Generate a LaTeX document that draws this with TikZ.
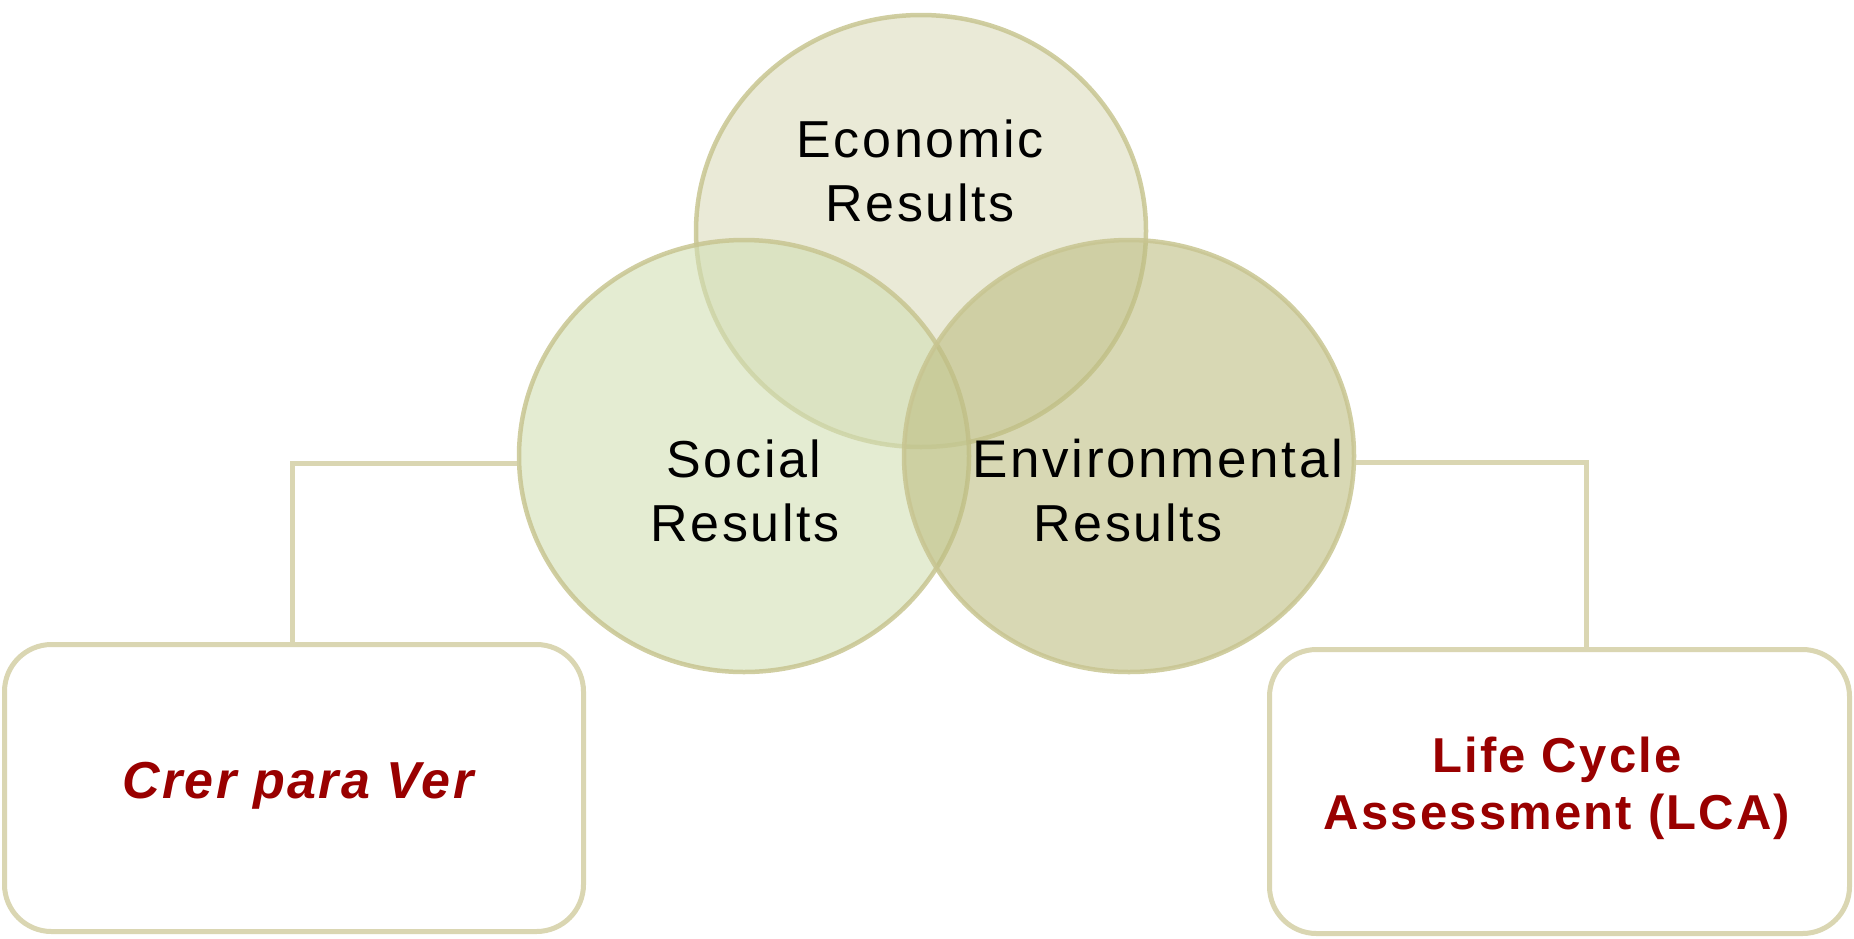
\documentclass[tikz,border=0pt]{standalone}
\usepackage{fontspec}
\usetikzlibrary{shapes.geometric}
\setmainfont{Liberation Sans}
\newfontfamily\circfont[LetterSpace=5]{Liberation Sans}
\newfontfamily\redfont[LetterSpace=4.5]{Liberation Sans}
\definecolor{econfill}{RGB}{220,220,188}
\definecolor{socfill}{RGB}{210,223,180}
\definecolor{envfill}{RGB}{190,190,130}
\definecolor{circline}{RGB}{200,197,145}
\definecolor{boxline}{RGB}{218,214,178}
\definecolor{darkred}{RGB}{153,0,0}
\begin{document}
\begin{tikzpicture}[x=1pt,y=-1pt,
  circ/.style={ellipse, draw=circline, draw opacity=0.85, line width=4.5pt, fill opacity=0.6,
    minimum width=450pt, minimum height=432pt, inner sep=0pt},
  ctext/.style={anchor=base, inner sep=0pt, font=\circfont\fontsize{52}{60}\selectfont, text=black},
  rbox/.style={draw=boxline, line width=5pt, rounded corners=47pt, fill=white, inner sep=0pt},
  rtext/.style={text=darkred, align=center, inner sep=0pt},
  conn/.style={draw=boxline, line width=5pt}]
\useasboundingbox (0,0) rectangle (1854,938);
% circles
\node[circ, fill=econfill] (econ) at (921,231) {};
\node[circ, fill=socfill] (social) at (744,456) {};
\node[circ, fill=envfill] (env) at (1129,456) {};
% circle texts
\node[ctext] (econ1) at (920,157) {Economic};
\node[ctext] (econ2) at (920,221) {Results};
\node[ctext] (soc1) at (744,477) {Social};
\node[ctext] (soc2) at (745,541) {Results};
\node[ctext, font=\circfont\fontsize{53}{60}\selectfont] (env1) at (1158,477) {Environmental};
\node[ctext] (env2) at (1128,541) {Results};
% boxes
\node[rbox, minimum width=579pt, minimum height=287pt] (lbox) at (294,788) {};
\node[rbox, minimum width=580pt, minimum height=284pt] (rbox) at (1559.5,791.5) {};
\node[rtext, font=\redfont\bfseries\itshape\fontsize{52}{57}\selectfont] (ltext) at (298,786) {Crer para Ver};
\node[rtext, font=\redfont\bfseries\fontsize{49}{57}\selectfont] (rtext) at (1557,788) {Life Cycle\\Assessment (LCA)};
% connectors
\coordinate (lj) at (292,463);
\coordinate (rj) at (1586,462);
\draw[conn] (lj |- lbox.north) -- (lj) -- (lj -| social.west);
\draw[conn] (rj -| env.east) -- (rj) -- (rj |- rbox.north);
\end{tikzpicture}
\end{document}
